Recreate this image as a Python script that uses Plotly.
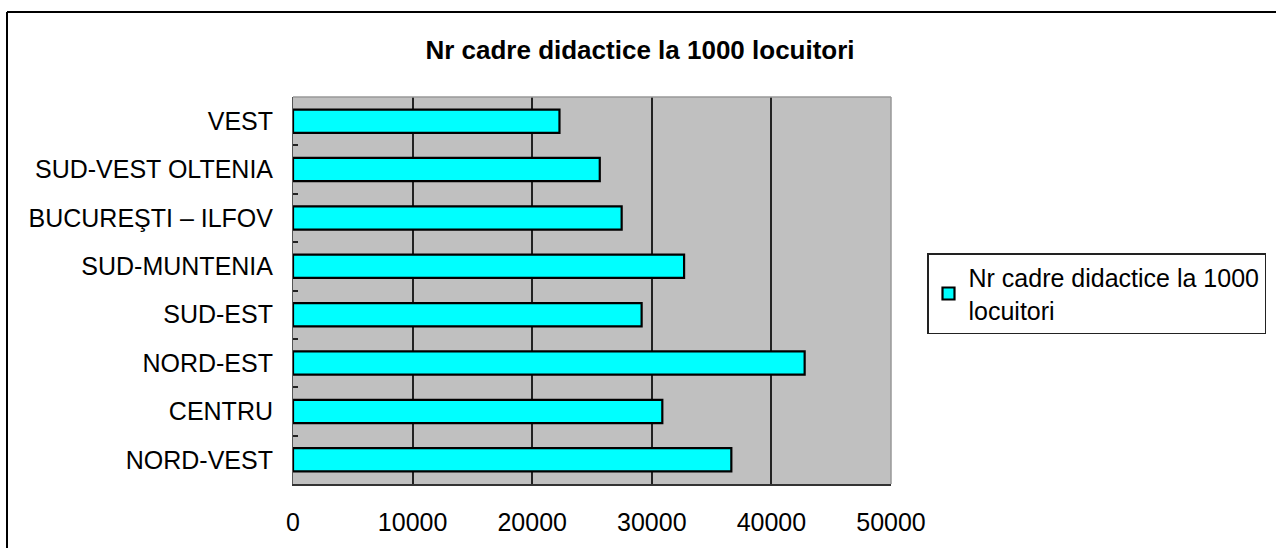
import plotly.graph_objects as go

# Regions (bottom to top as drawn on the category axis)
regions = [
    "NORD-VEST",
    "CENTRU",
    "NORD-EST",
    "SUD-EST",
    "SUD-MUNTENIA",
    "BUCUREŞTI – ILFOV",
    "SUD-VEST OLTENIA",
    "VEST",
]
values = [36650, 30880, 42780, 29150, 32700, 27480, 25650, 22280]

x_ticks = [0, 10000, 20000, 30000, 40000, 50000]
series_name = "Nr cadre didactice la 1000<br>locuitori"
chart_title = "Nr cadre didactice la 1000 locuitori"

W, H = 1276, 548
L, R, T, B = 293, 891, 97, 484  # plot area in pixels


def px_x(px):
    return (px - L) / (R - L)


def px_y(py):
    return (B - py) / (B - T)


fig = go.Figure()
fig.add_trace(go.Bar(
    y=regions,
    x=values,
    orientation="h",
    name=series_name,
    marker=dict(color="#00FFFF", line=dict(color="#000000", width=2.2)),
    showlegend=True,
))

font_family = "Liberation Sans, Arial, sans-serif"

fig.update_layout(
    width=W,
    height=H,
    margin=dict(l=L, r=W - R, t=T, b=H - B, autoexpand=False),
    paper_bgcolor="white",
    plot_bgcolor="#C0C0C0",
    bargap=0.52,
    title=dict(
        text="<b>" + chart_title + "</b>",
        x=640 / W,
        xanchor="center",
        y=1 - 50 / H,
        yanchor="middle",
        font=dict(family=font_family, size=26, color="black"),
    ),
    xaxis=dict(
        range=[0, 50000],
        tickvals=x_ticks,
        ticktext=[str(v) for v in x_ticks],
        showgrid=True,
        gridcolor="#222222",
        gridwidth=1.5,
        zeroline=False,
        showline=True,
        linecolor="#333333",
        linewidth=2,
        ticks="",
        ticklabelstandoff=15,
        tickfont=dict(family=font_family, size=25, color="black"),
        fixedrange=True,
    ),
    yaxis=dict(
        type="category",
        categoryorder="array",
        categoryarray=regions,
        showgrid=False,
        showline=True,
        linecolor="#555555",
        linewidth=1,
        ticks="inside",
        tickson="boundaries",
        ticklen=5,
        tickwidth=1.5,
        tickcolor="#222222",
        ticklabelstandoff=14,
        tickfont=dict(family=font_family, size=25, color="black"),
        fixedrange=True,
    ),
    legend=dict(
        x=px_x(927),
        y=px_y(253),
        xanchor="left",
        yanchor="top",
        bgcolor="white",
        bordercolor="#222222",
        borderwidth=1.5,
        font=dict(family=font_family, size=25, color="black"),
        itemwidth=30,
        tracegroupgap=0,
    ),
    shapes=[
        # light frame on the top and right of the plot area
        dict(type="line", xref="paper", yref="paper", x0=0, x1=1, y0=1, y1=1,
             line=dict(color="#999999", width=1.5)),
        dict(type="line", xref="paper", yref="paper", x0=1, x1=1, y0=0, y1=1,
             line=dict(color="#999999", width=1.5)),
        # outer chart frame (top and left edges)
        dict(type="line", xref="paper", yref="paper",
             x0=px_x(7), x1=px_x(W + 5), y0=px_y(12), y1=px_y(12),
             line=dict(color="black", width=2)),
        dict(type="line", xref="paper", yref="paper",
             x0=px_x(7), x1=px_x(7), y0=px_y(12), y1=px_y(H + 5),
             line=dict(color="black", width=2)),
    ],
)

fig.write_html("out.html")
